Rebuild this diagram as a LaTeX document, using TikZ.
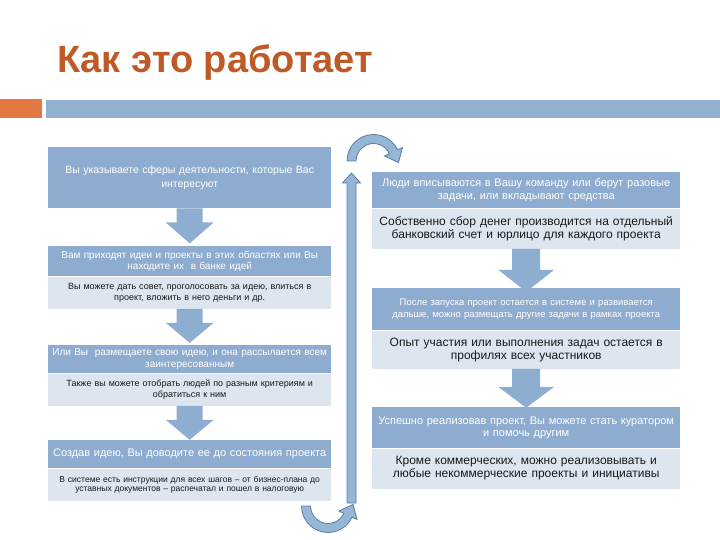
\documentclass[tikz,border=0pt]{standalone}
\usepackage{fontspec}
\setmainfont{Liberation Sans}
\usetikzlibrary{calc}
\definecolor{titlebrown}{RGB}{190,90,40}
\definecolor{barorange}{RGB}{228,120,66}
\definecolor{barblue}{RGB}{143,176,206}
\definecolor{boxblue}{RGB}{142,172,207}
\definecolor{boxlight}{RGB}{221,229,239}
\definecolor{arrowblue}{RGB}{141,173,209}
\definecolor{loopfill}{RGB}{150,182,214}
\definecolor{loopline}{RGB}{88,124,166}
\tikzset{
  head/.style={fill=boxblue, text=white, align=center, inner xsep=3pt, inner ysep=0pt, anchor=north west},
  note/.style={fill=boxlight, text=black!90, align=center, inner xsep=3pt, inner ysep=0pt, anchor=north west},
  loop/.style={fill=loopfill, draw=loopline, line width=0.8pt},
  % block arrow: shaft half width, head half width, shaft length, full length
  pics/darrow/.style n args={4}{code={
    \fill[arrowblue] (-#1,0) -- (#1,0) -- (#1,#3) -- (#2,#3) -- (0,#4) -- (-#2,#3) -- (-#1,#3) -- cycle;
  }},
}
\newcommand{\fs}[2]{\fontsize{#1}{#2}\selectfont}
\begin{document}
\begin{tikzpicture}[x=1pt,y=-1pt]
		\useasboundingbox (0,0) rectangle (720,540);
		% title & bars
		\node[anchor=base west, text=titlebrown, font=\fs{38}{42}\bfseries, inner sep=0pt] (title) at (57,73) {Как это работает};
		\fill[barorange] (0,99) rectangle (42,118);
		\fill[barblue] (46,100) rectangle (720,118);
		% left column
		\node[head, text width=277pt, minimum height=61pt, font=\fs{10.5}{14}] (l1) at (48,147)
			{Вы указываете сферы деятельности, которые Вас\\интересуют};
		\node[head, text width=277pt, minimum height=30pt, font=\fs{10}{11.5}] (l2) at (48,246)
			{Вам приходят идеи и проекты в этих областях или Вы\\находите их \ в банке идей};
		\node[note, text width=277pt, minimum height=32pt, font=\fs{9}{11}] (l2n) at (l2.south west)
			{Вы можете дать совет, проголосовать за идею, влиться в\\проект, вложить в него деньги и др.};
		\node[head, text width=277pt, minimum height=28pt, font=\fs{10}{12}] (l3) at (48,345)
			{Или Вы \ размещаете свою идею, и она рассылается всем\\заинтересованным};
		\node[note, text width=277pt, minimum height=32pt, font=\fs{9}{11}] (l3n) at (l3.south west)
			{Также вы можете отобрать людей по разным критериям и\\обратиться к ним};
		\node[head, text width=277pt, minimum height=28pt, font=\fs{11}{13}] (l4) at (48,440)
			{Создав идею, Вы доводите ее до состояния проекта};
		\node[note, text width=277pt, minimum height=32pt, font=\fs{8.5}{9.5}] (l4n) at (l4.south west)
			{В системе есть инструкции для всех шагов – от бизнес-плана до\\уставных документов – распечатал и пошел в налоговую};
		% right column
		\node[head, text width=302pt, minimum height=36pt, font=\fs{11}{13}] (r1) at (372,172)
			{Люди вписываются в Вашу команду или берут разовые\\задачи, или вкладывают средства};
		\node[note, text width=302pt, minimum height=40pt, font=\fs{12}{13}] (r1n) at (r1.south west)
			{Собственно сбор денег производится на отдельный\\банковский счет и юрлицо для каждого проекта};
		\node[head, text width=302pt, minimum height=42pt, font=\fs{9.5}{12}] (r2) at (372,288)
			{После запуска проект остается в системе и развивается\\дальше, можно размещать другие задачи в рамках проекта};
		\node[note, text width=302pt, minimum height=38pt, font=\fs{12}{13}] (r2n) at (r2.south west)
			{Опыт участия или выполнения задач остается в\\профилях всех участников};
		\node[head, text width=302pt, minimum height=41pt, font=\fs{11}{12}] (r3) at (372,407)
			{Успешно реализовав проект, Вы можете стать куратором\\и помочь другим};
		\node[note, text width=302pt, minimum height=40pt, font=\fs{12}{13}] (r3n) at (r3.south west)
			{Кроме коммерческих, можно реализовывать и\\любые некоммерческие проекты и инициативы};
		% arrows between boxes
		\pic at (l1.south) {darrow={13}{24}{14}{35}};
		\pic at (l2n.south) {darrow={13}{24}{14}{34}};
		\pic at (l3n.south) {darrow={13}{24}{14}{34}};
		\pic at (r1n.south) {darrow={14}{28}{21}{43}};
		\pic at (r2n.south) {darrow={14}{28}{18}{39}};
		% loop back: bottom arc, column, top arc
		\coordinate (upbot) at (351.5,503);
		\coordinate (uptop) at (351.5,173);
		\filldraw[loop] ($(upbot)+(-4.5,0)$) -- ($(uptop)+(-4.5,10)$) -- ($(uptop)+(-9,10)$) -- (uptop)
			-- ($(uptop)+(9,10)$) -- ($(uptop)+(4.5,10)$) -- ($(upbot)+(4.5,0)$) -- cycle;
		\coordinate (ctop) at (373.5,161);
		\filldraw[loop]
			($(ctop)+(180:26.5)$) arc[start angle=180, end angle=335, radius=26.5]
			-- ($(ctop)+(335:32)$) -- ($(ctop)+(335:22)+(65:12)$) -- ($(ctop)+(335:12)$)
			-- ($(ctop)+(335:17.5)$) arc[start angle=335, end angle=180, radius=17.5] -- cycle;
		\coordinate (cbot) at (328,506);
		\filldraw[loop]
			($(cbot)+(180:26.5)$) arc[start angle=180, end angle=25, radius=26.5]
			-- ($(cbot)+(25:32)$) -- ($(cbot)+(25:22)+(-65:12)$) -- ($(cbot)+(25:12)$)
			-- ($(cbot)+(25:17.5)$) arc[start angle=25, end angle=180, radius=17.5] -- cycle;
	\end{tikzpicture}
\end{document}
